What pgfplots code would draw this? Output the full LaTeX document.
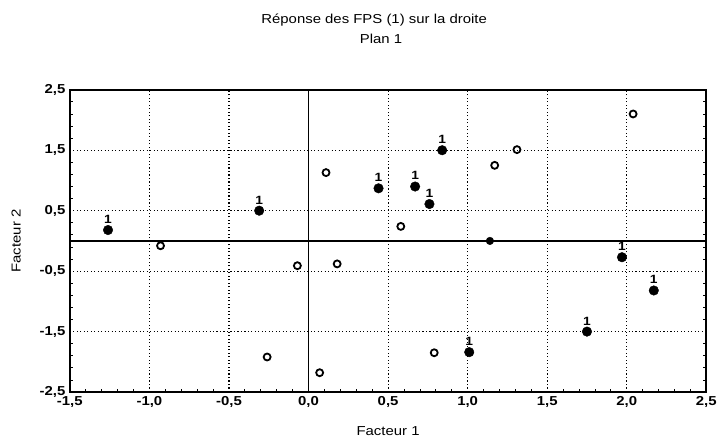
\documentclass[border=0pt]{standalone}
\usepackage{fontspec}
\setmainfont{Liberation Sans}[FakeStretch=1.15]
\usepackage{pgfplots}
\pgfplotsset{compat=1.18}
\begin{document}
\fontsize{13}{15}\selectfont
\begin{tikzpicture}
\begin{axis}[
  width=638pt, height=303pt, scale only axis,
  xmin=-1.5, xmax=2.5, ymin=-2.5, ymax=2.5,
  xtick={-1.5,-1,-0.5,0,0.5,1,1.5,2,2.5},
  ytick={-2.5,-1.5,-0.5,0.5,1.5,2.5},
  grid=major,
  major grid style={black, line width=1.1pt, dash pattern=on 1.1pt off 2.4pt},
  axis line style={line width=1.7pt},
  major tick length=0pt,
  minor tick num=4,
  minor tick length=3pt,
  tick align=inside,
  minor tick style={black, line width=0.8pt},
  xtick pos=bottom,
  tick label style={font=\bfseries\fontsize{13}{15}\selectfont},
  /pgf/number format/use comma,
  /pgf/number format/fixed,
  /pgf/number format/fixed zerofill,
  /pgf/number format/precision=1,
  /pgf/number format/assume math mode=true,
  xlabel={Facteur 1},
  ylabel={Facteur 2},
  label style={font=\fontsize{13}{15}\selectfont},
  xlabel style={yshift=-10pt},
  ylabel style={yshift=10pt},
  clip=false,
]
\draw[line width=1.7pt] (axis cs:0,-2.5) -- (axis cs:0,2.5);
\draw[line width=1.7pt] (axis cs:-1.5,0) -- (axis cs:2.5,0);

% filled points labelled "1"
\addplot[only marks, mark=*, mark size=4.8pt, black,
  nodes near coords={1},
  every node near coord/.style={anchor=south, yshift=2pt, font=\bfseries\fontsize{12}{14}\selectfont}]
  coordinates {
  (-1.26,0.18) (-0.31,0.50) (0.44,0.87) (0.67,0.90) (0.76,0.61)
  (0.84,1.50) (1.97,-0.27) (2.17,-0.82) (1.75,-1.50) (1.01,-1.84)
  };

% open points
\addplot[only marks, mark=o, mark size=3.5pt, black,
  mark options={line width=1.8pt, fill=white}]
  coordinates {
  (-0.93,-0.08) (0.11,1.13) (-0.07,-0.41) (0.18,-0.38) (1.31,1.51)
  (2.04,2.10) (1.17,1.25) (0.58,0.24) (0.79,-1.85) (-0.26,-1.92)
  (0.07,-2.18)
  };

% small dot on the horizontal axis
\addplot[only marks, mark=*, mark size=3.8pt, black]
  coordinates {(1.14,0)};

\node[anchor=base, xshift=-14pt, yshift=66pt, font=\fontsize{13}{15}\selectfont] at (rel axis cs:0.5,1)
  {Réponse des FPS (1) sur la droite};
\node[anchor=base, xshift=-7pt, yshift=46pt, font=\fontsize{13}{15}\selectfont] at (rel axis cs:0.5,1)
  {Plan 1};
\end{axis}
\path (current axis.south west) ++(-70pt,-54pt) coordinate (bl);
\path (current axis.north east) ++(13pt,90pt) coordinate (tr);
\path (bl) rectangle (tr);
\end{tikzpicture}
\end{document}
